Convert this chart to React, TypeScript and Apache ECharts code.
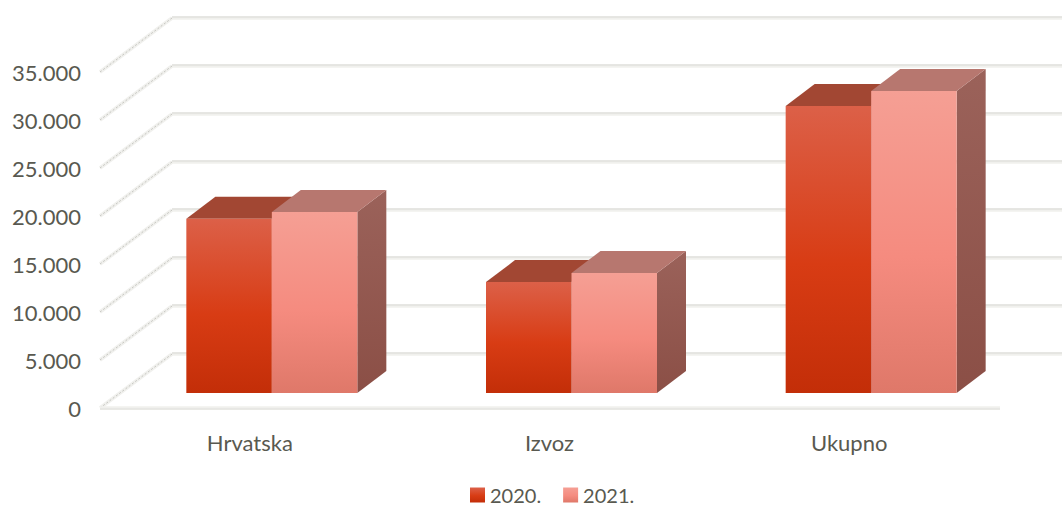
import React, { useEffect, useRef } from "react";
import * as echarts from "echarts";

const categories = ["Hrvatska", "Izvoz", "Ukupno"];
const values2020 = [18150, 11550, 29900];
const values2021 = [18850, 12500, 31450];
const yTicks = [0, 5000, 10000, 15000, 20000, 25000, 30000, 35000];
const seriesNames = ["2020.", "2021."];

const FONT = "Lato";
const TEXT = "#595950";
const grad = (a: string, b: string, c: string) =>
  new echarts.graphic.LinearGradient(0, 0, 0, 1, [
    { offset: 0, color: a },
    { offset: 0.55, color: b },
    { offset: 1, color: c },
  ]);

const palette = [
  {
    front: ["#dc6048", "#d83c14", "#c32e08"],
    top: "#a24733",
    side: ["#9a4a38", "#8a3a28"],
    sign: -1,
  },
  {
    front: ["#f59f94", "#f58b7f", "#df7869"],
    top: "#b7776f",
    side: ["#9b625a", "#8b4f46"],
    sign: 1,
  },
];

const DX = 29;
const DY = 22;
const WALL_DX = 72;
const WALL_DY = 54;
const BAR_W = 85.5;
const SHIFT_X = 22;
const SHIFT_Y = 15;

function renderBar(s: number) {
  return (params: any, api: any) => {
    const i = api.value(0);
    const v = api.value(1);
    const c = palette[s];
    const base = api.coord([i, 0]);
    const topP = api.coord([i, v]);
    const x0 = base[0] + SHIFT_X + (c.sign < 0 ? -BAR_W : 0);
    const x1 = x0 + BAR_W;
    const yb = base[1] - SHIFT_Y;
    const yt = topP[1] - SHIFT_Y;
    return {
      type: "group",
      children: [
        {
          type: "polygon",
          shape: { points: [[x1, yb], [x1 + DX, yb - DY], [x1 + DX, yt - DY], [x1, yt]] },
          style: {
            fill: new echarts.graphic.LinearGradient(0, 0, 0, 1, [
              { offset: 0, color: c.side[0] },
              { offset: 1, color: c.side[1] },
            ]),
          },
        },
        {
          type: "polygon",
          shape: { points: [[x0, yt], [x0 + DX, yt - DY], [x1 + DX, yt - DY], [x1, yt]] },
          style: { fill: c.top },
        },
        {
          type: "rect",
          shape: { x: x0, y: yt, width: BAR_W, height: yb - yt },
          style: { fill: grad(c.front[0], c.front[1], c.front[2]) },
        },
      ],
    };
  };
}

function renderWall(params: any, api: any) {
  const v = api.value(1);
  const y = api.coord([0, v])[1];
  const cs = params.coordSys;
  const x0 = cs.x;
  const xEnd = cs.x + cs.width + WALL_DX;
  const kids: any[] = [
    {
      type: "line",
      shape: { x1: x0, y1: y, x2: x0 + WALL_DX, y2: y - WALL_DY },
      style: { stroke: "#f0f0ed", lineWidth: 3.5 },
    },
    {
      type: "line",
      shape: { x1: x0, y1: y, x2: x0 + WALL_DX, y2: y - WALL_DY },
      style: { stroke: "#c6c6c1", lineWidth: 1, lineDash: [2, 2] },
    },
    {
      type: "line",
      shape: { x1: x0 + WALL_DX, y1: y - WALL_DY, x2: xEnd, y2: y - WALL_DY },
      style: { stroke: "#f0f0ed", lineWidth: 3.5 },
    },
    {
      type: "line",
      shape: { x1: x0 + WALL_DX, y1: y - WALL_DY - 1, x2: xEnd, y2: y - WALL_DY - 1 },
      style: { stroke: "#d9d9d5", lineWidth: 1 },
    },
  ];
  if (v === 0) {
    kids.push(
      {
        type: "line",
        shape: { x1: x0, y1: y, x2: cs.x + cs.width + 1, y2: y },
        style: { stroke: "#f0f0ed", lineWidth: 3.5 },
      },
      {
        type: "line",
        shape: { x1: x0, y1: y + 1, x2: cs.x + cs.width + 1, y2: y + 1 },
        style: { stroke: "#dededa", lineWidth: 1 },
      }
    );
  }
  return { type: "group", children: kids };
}

export default function App() {
  const ref = useRef<HTMLDivElement>(null);
  useEffect(() => {
    document.body.style.margin = "0";
    document.body.style.overflow = "hidden";
    const chart = echarts.init(ref.current!, undefined, { renderer: "svg" });
    chart.setOption({
      animation: false,
      backgroundColor: "#ffffff",
      grid: { left: 100, right: 63, top: 72, bottom: 98 },
      legend: {
        left: 470,
        top: 485,
        itemWidth: 15,
        itemHeight: 15,
        itemGap: 22,
        padding: 0,
        selectedMode: false,
        textStyle: {
          fontFamily: FONT,
          fontSize: 20,
          color: TEXT,
        },
        data: seriesNames.map((name, s) => ({
          name,
          icon: "rect",
          itemStyle: { color: grad(palette[s].front[0], palette[s].front[1], palette[s].front[2]) },
        })),
      },
      xAxis: {
        type: "category",
        data: categories,
        axisLine: { show: false },
        axisTick: { show: false },
        axisLabel: { fontFamily: FONT, fontSize: 22, color: TEXT, margin: 23 },
      },
      yAxis: {
        type: "value",
        min: 0,
        max: 35000,
        interval: 5000,
        splitLine: { show: false },
        axisLine: { show: false },
        axisTick: { show: false },
        axisLabel: {
          fontFamily: FONT,
          fontSize: 22,
          color: TEXT,
          margin: 19,
          padding: [2, 0, 0, 0],
          formatter: (v: number) => (v === 0 ? "0" : String(v).replace(/(\d{3})$/, ".$1")),
        },
      },
      series: [
        {
          name: "wall",
          type: "custom",
          z: 1,
          silent: true,
          encode: { x: 0, y: 1 },
          data: yTicks.map((v) => [0, v]),
          renderItem: renderWall,
        },
        {
          name: seriesNames[0],
          type: "custom",
          z: 2,
          encode: { x: 0, y: 1 },
          data: values2020.map((v, i) => [i, v]),
          renderItem: renderBar(0),
        },
        {
          name: seriesNames[1],
          type: "custom",
          z: 3,
          encode: { x: 0, y: 1 },
          data: values2021.map((v, i) => [i, v]),
          renderItem: renderBar(1),
        },
      ],
    });
    return () => chart.dispose();
  }, []);
  return <div ref={ref} style={{ width: 1062, height: 506 }} />;
}
